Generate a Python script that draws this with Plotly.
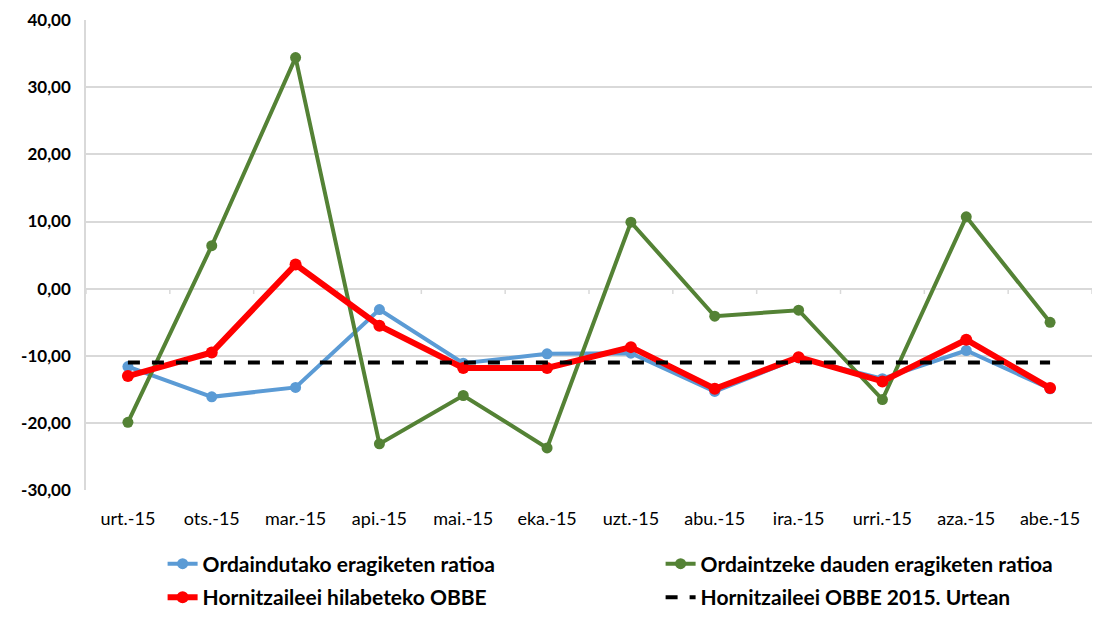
import plotly.graph_objects as go

months = ["urt.-15", "ots.-15", "mar.-15", "api.-15", "mai.-15", "eka.-15",
          "uzt.-15", "abu.-15", "ira.-15", "urri.-15", "aza.-15", "abe.-15"]
ordaindutako = [-11.6, -16.1, -14.7, -3.1, -11.1, -9.7, -9.6, -15.3, -10.3, -13.4, -9.2, -14.9]
ordaintzeke = [-19.9, 6.4, 34.4, -23.1, -15.9, -23.7, 9.9, -4.1, -3.2, -16.5, 10.7, -5.0]
hilabeteko = [-13.0, -9.5, 3.6, -5.5, -11.8, -11.8, -8.7, -14.9, -10.2, -13.8, -7.6, -14.8]
urtean = [-11.0] * 12
ytick_vals = [-30, -20, -10, 0, 10, 20, 30, 40]
ytick_text = [("%.2f" % v).replace(".", ",") for v in ytick_vals]

FONT = "Lato"
fig = go.Figure()
fig.add_trace(go.Scatter(x=months, y=ordaindutako, name="Ordaindutako eragiketen ratioa",
                         mode="lines+markers", line=dict(color="#5b9bd5", width=4),
                         marker=dict(size=11, color="#5b9bd5"), legend="legend"))
fig.add_trace(go.Scatter(x=months, y=ordaintzeke, name="Ordaintzeke dauden eragiketen ratioa",
                         mode="lines+markers", line=dict(color="#548235", width=4),
                         marker=dict(size=11, color="#548235"), legend="legend2"))
fig.add_trace(go.Scatter(x=months, y=hilabeteko, name="Hornitzaileei hilabeteko OBBE",
                         mode="lines+markers", line=dict(color="#ff0000", width=6),
                         marker=dict(size=12, color="#ff0000"), legend="legend3"))
fig.add_trace(go.Scatter(x=months, y=urtean, name="Hornitzaileei OBBE 2015. Urtean",
                         mode="lines", line=dict(color="#000000", width=4, dash="dash"),
                         legend="legend4"))

# category tick marks on the zero line
for i in range(len(months) + 1):
    fig.add_shape(type="line", xref="x", yref="y", x0=i - 0.5, x1=i - 0.5, y0=0, y1=-0.8,
                  line=dict(color="#d9d9d9", width=1.5), layer="below")

H = 618
T = 20
legend_common = dict(orientation="v", yanchor="middle", xanchor="left",
                     font=dict(family=FONT, size=21, color="#000000", weight="bold"),
                     bgcolor="rgba(0,0,0,0)")
row1 = (H - 564) / (H - T)
row2 = (H - 598) / (H - T)
col1 = (162.6 - 86) / 1006
col2 = (660.6 - 86) / 1006
fig.update_layout(
    width=1101, height=H,
    margin=dict(l=86, r=9, t=T, b=0),
    plot_bgcolor="white", paper_bgcolor="white",
    font=dict(family=FONT, color="#000000"),
    showlegend=True,
    legend=dict(x=col1, y=row1, **legend_common),
    legend2=dict(x=col2, y=row1, **legend_common),
    legend3=dict(x=col1, y=row2, **legend_common),
    legend4=dict(x=col2, y=row2, **legend_common),
)
fig.update_xaxes(range=[-0.5, 11.5], showgrid=False, showline=False, zeroline=False,
                 ticks="", tickfont=dict(family=FONT, size=18, color="#000000"),
                 ticklabelstandoff=16, automargin=False)
fig.update_yaxes(range=[-30, 40], domain=[(H - 491) / (H - T), 1],
                 tickvals=ytick_vals, ticktext=ytick_text,
                 showgrid=True, gridcolor="#d9d9d9", gridwidth=1.5,
                 zeroline=True, zerolinecolor="#d9d9d9", zerolinewidth=1.5,
                 showline=True, linecolor="#d9d9d9", linewidth=1.5,
                 tickfont=dict(family=FONT, size=17, color="#000000", weight="bold"),
                 ticks="", ticklabelstandoff=10, automargin=False)

fig.write_html("out.html", config={"displayModeBar": False},
               post_script="document.body.style.margin='0';")
